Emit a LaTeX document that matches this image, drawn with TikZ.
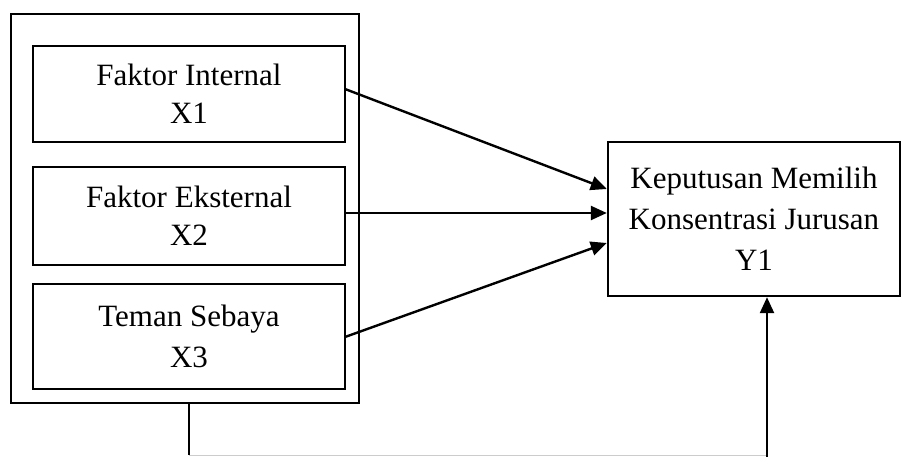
\documentclass[tikz,border=0pt]{standalone}
\usepackage{fontspec}
\setmainfont{Liberation Serif}
\usetikzlibrary{arrows.meta}
\begin{document}
\begin{tikzpicture}[x=1pt,y=-1pt,
  box/.style={draw,line width=2.4pt,inner sep=0pt,align=center},
  ftl/.style={font=\fontsize{31}{38}\selectfont},
  ftr/.style={font=\fontsize{31}{41}\selectfont},
  arr/.style={line width=2.4pt,-{Triangle[length=16pt,width=14pt]}}]
\useasboundingbox (0,0) rectangle (908,457);
\draw[line width=2.4pt] (11,14) rectangle (359,403);
\node[box,ftl,minimum width=312pt,minimum height=96pt] (x1) at (189,94) {Faktor Internal\\X1};
\node[box,ftl,minimum width=312pt,minimum height=98pt] (x2) at (189,216) {Faktor Eksternal\\X2};
\node[box,ftr,minimum width=312pt,minimum height=105pt] (x3) at (189,336.5) {Teman Sebaya\\X3};
\node[box,ftr,minimum width=292pt,minimum height=154pt] (y1) at (754,219) {Keputusan Memilih\\Konsentrasi Jurusan\\Y1};
\coordinate (s1) at (345,89);
\coordinate (s2) at (345,213);
\coordinate (s3) at (345,337);
\draw[arr] (s1) -- (y1.west |- 0,189);
\draw[arr] (s2) -- (y1.west |- 0,213);
\draw[arr] (s3) -- (y1.west |- 0,243);
\coordinate (b1) at (189,403);
\coordinate (b2) at (189,455);
\coordinate (b3) at (767,455);
\coordinate (b4) at (767,457);
\draw[line width=2.4pt] (b1) -- (b2);
\draw[gray!40,line width=0.8pt] (b2) -- (b3);
\draw[arr] (b4) -- (y1.south -| b4);
\end{tikzpicture}
\end{document}
